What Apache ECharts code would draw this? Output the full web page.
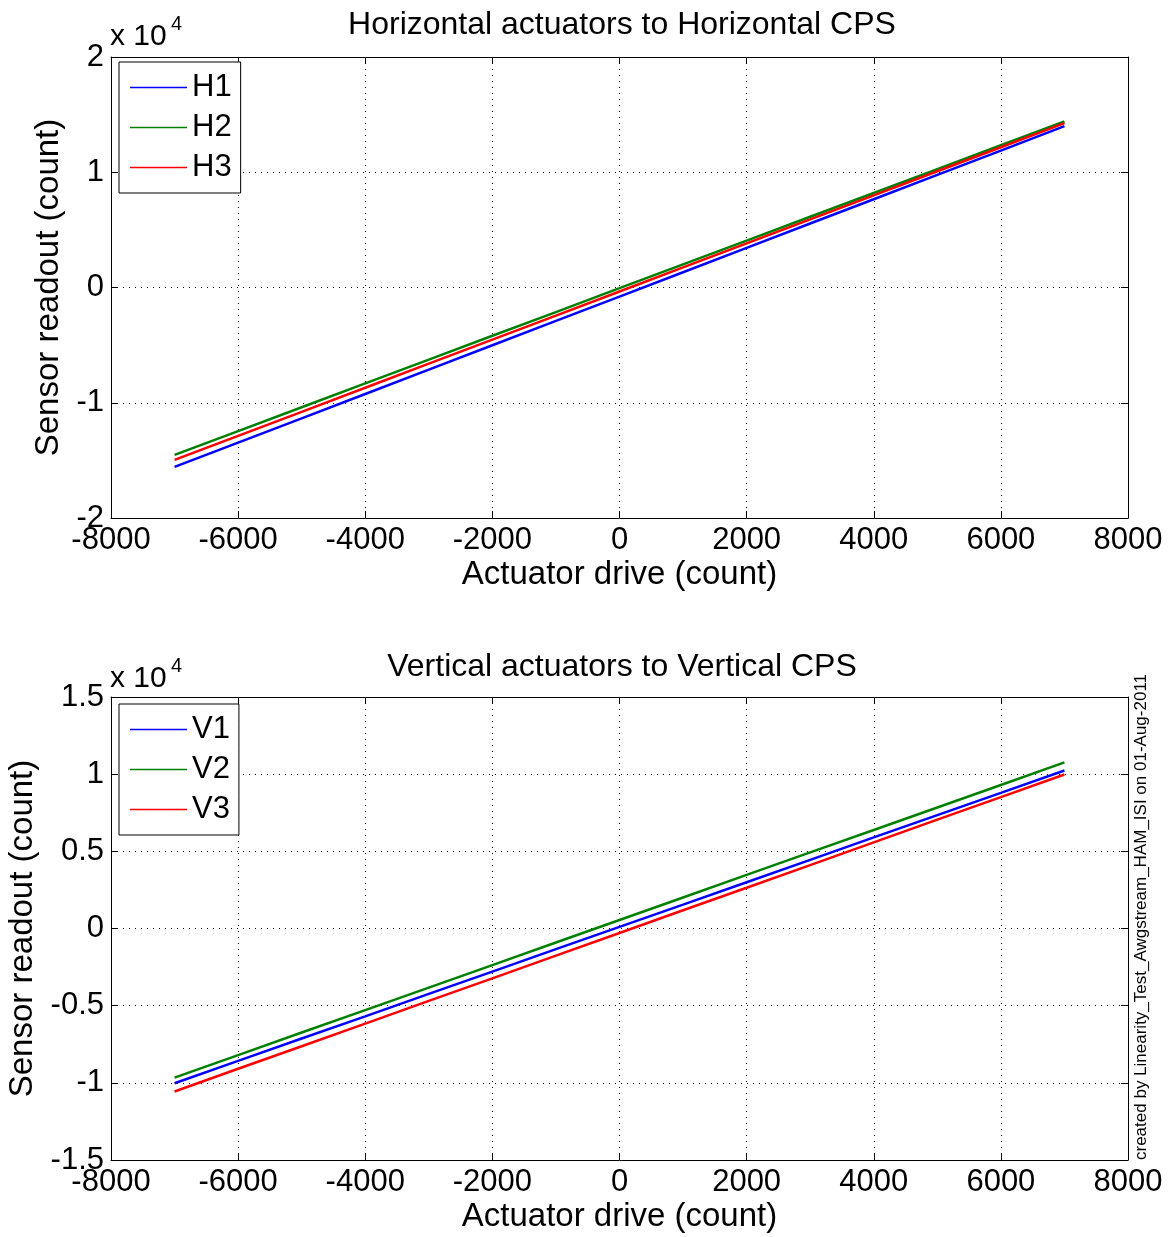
<!DOCTYPE html>
<html><head><meta charset="utf-8">
<script src="https://cdn.jsdelivr.net/npm/echarts@6/dist/echarts.min.js"></script>
<style>html,body{margin:0;padding:0;background:#fff}#c{width:1172px;height:1237px}</style>
</head><body><div id="c"></div>
<script>
// Actuator drive (count)
const drive = [-7000,-6000,-5000,-4000,-3000,-2000,-1000,0,1000,2000,3000,4000,5000,6000,7000];
// Horizontal CPS readout (count)
const H1 = [-15570,-13460,-11350,-9240,-7120,-5010,-2900,-790,1320,3440,5550,7660,9770,11880,14000];
const H2 = [-14520,-12460,-10390,-8320,-6260,-4190,-2130,-60,2010,4070,6140,8200,10270,12340,14400];
const H3 = [-14960,-12870,-10790,-8700,-6610,-4520,-2440,-350,1740,3830,5910,8000,10090,12170,14260];
// Vertical CPS readout (count)
const V1 = [-10030,-8580,-7130,-5690,-4240,-2790,-1340,105,1550,3000,4450,5900,7345,8790,10240];
const V2 = [-9660,-8200,-6740,-5290,-3830,-2370,-910,550,2010,3470,4930,6380,7840,9300,10760];
const V3 = [-10560,-9090,-7630,-6160,-4690,-3230,-1760,-290,1180,2640,4110,5580,7050,8510,9980];
const xTicks = [-8000,-6000,-4000,-2000,0,2000,4000,6000,8000];
const topYTicks = [-2,-1,0,1,2];
const botYTicks = [-1.5,-1,-0.5,0,0.5,1,1.5];

const FONT = 'Liberation Sans';
const colors = {H1:'#0000ff',H2:'#008000',H3:'#ff0000',V1:'#0000ff',V2:'#008000',V3:'#ff0000'};
const pair = (ys) => drive.map((x,i)=>[x,ys[i]]);
const dotted = {show:true,lineStyle:{color:'#000',width:1,type:[1,5]}};

function xAx(gi, name, pos) {
  const main = pos === 'bottom';
  return {
    type:'value', gridIndex:gi, position:pos, min:xTicks[0], max:xTicks[xTicks.length-1], interval:2000,
    name: main ? name : '', nameLocation:'middle', nameGap:40,
    nameTextStyle:{fontFamily:FONT,fontSize:33,color:'#000'},
    axisLine:{show:true,onZero:false,lineStyle:{color:'#000',width:1}},
    axisTick:{show:true,inside:true,length:7,lineStyle:{color:'#000'}},
    axisLabel:{show:main,fontFamily:FONT,fontSize:31,color:'#000',margin:7,formatter:(v)=>String(v)},
    splitLine: main ? dotted : {show:false}
  };
}
function yAx(gi, ticks, interval, pos, nameGap) {
  const main = pos === 'left';
  return {
    type:'value', gridIndex:gi, position:pos, min:ticks[0]*10000, max:ticks[ticks.length-1]*10000, interval:interval*10000,
    name: main ? 'Sensor readout (count)' : '', nameLocation:'middle', nameGap:nameGap,
    nameTextStyle:{fontFamily:FONT,fontSize:33,color:'#000'},
    axisLine:{show:true,onZero:false,lineStyle:{color:'#000',width:1}},
    axisTick:{show:true,inside:true,length:7,lineStyle:{color:'#000'}},
    axisLabel:{show:main,fontFamily:FONT,fontSize:31,color:'#000',margin:7,
      formatter:(v)=>String(Math.round(v/1000)/10)},
    splitLine: main ? dotted : {show:false}
  };
}
function ser(name, ys, xi, yi) {
  return {name, type:'line', data:pair(ys), xAxisIndex:xi, yAxisIndex:yi, symbol:'none',
    lineStyle:{color:colors[name],width:2.5}, itemStyle:{color:colors[name]}, animation:false};
}
function legend(names, top) {
  return {data:names.map(n=>({name:n,icon:'rect'})), orient:'vertical', left:119, top:top,
    itemWidth:57, itemHeight:1.5, itemGap:9,
    padding:[10,9,10,11], borderColor:'#000', borderWidth:1, backgroundColor:'#fff',
    textStyle:{fontFamily:FONT,fontSize:31,color:'#000',lineHeight:31}, selectedMode:false};
}

const chart = echarts.init(document.getElementById('c'), null, {renderer:'canvas'});
chart.setOption({
  backgroundColor:'#fff',
  animation:false,
  title:[
    {text:'Horizontal actuators to Horizontal CPS', left:617, top:4, textAlign:'center',
     textStyle:{fontFamily:FONT,fontSize:32,fontWeight:'normal',color:'#000'}},
    {text:'Vertical actuators to Vertical CPS', left:617, top:646, textAlign:'center',
     textStyle:{fontFamily:FONT,fontSize:32,fontWeight:'normal',color:'#000'}}
  ],
  grid:[
    {left:111, right:44, top:57, height:461, outerBoundsMode:'none', containLabel:false},
    {left:111, right:44, top:697, height:463, outerBoundsMode:'none', containLabel:false}
  ],
  xAxis:[ xAx(0,'Actuator drive (count)','bottom'), xAx(0,'','top'),
          xAx(1,'Actuator drive (count)','bottom'), xAx(1,'','top') ],
  yAxis:[ yAx(0,topYTicks,1,'left',43), yAx(0,topYTicks,1,'right',0),
          yAx(1,botYTicks,0.5,'left',70), yAx(1,botYTicks,0.5,'right',0) ],
  legend:[ legend(['H1','H2','H3'],62), legend(['V1','V2','V3'],704) ],
  series:[
    ser('H1',H1,0,0), ser('H2',H2,0,0), ser('H3',H3,0,0),
    ser('V1',V1,2,2), ser('V2',V2,2,2), ser('V3',V3,2,2)
  ],
  graphic:[
    {type:'text', left:110, top:22, style:{text:'x 10', font:'30px "Liberation Sans"', fill:'#000'}},
    {type:'text', left:171, top:14, style:{text:'4', font:'20px "Liberation Sans"', fill:'#000'}},
    {type:'text', left:110, top:664, style:{text:'x 10', font:'30px "Liberation Sans"', fill:'#000'}},
    {type:'text', left:171, top:656, style:{text:'4', font:'20px "Liberation Sans"', fill:'#000'}},
    {type:'text', x:1133, y:1160, rotation:Math.PI/2,
     style:{text:'created by Linearity_Test_Awgstream_HAM_ISI on 01-Aug-2011', font:'17px "Liberation Sans"', fill:'#000', align:'left', verticalAlign:'top'}}
  ]
});
</script></body></html>
